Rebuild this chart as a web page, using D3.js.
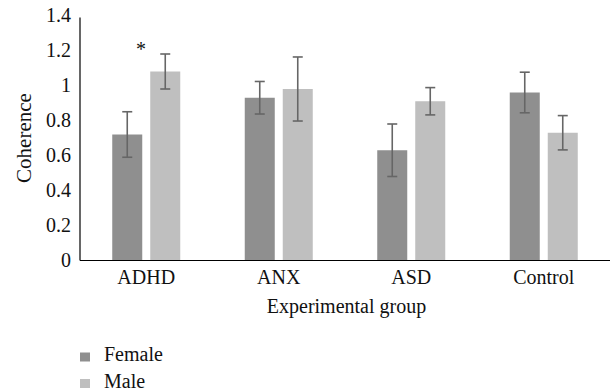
<!DOCTYPE html>
<html>
<head>
<meta charset="utf-8">
<script src="https://cdn.jsdelivr.net/npm/d3@7"></script>
</head>
<body style="margin:0; background:#fff">
<div id="chart"></div>
<script>
var groups = ["ADHD", "ANX", "ASD", "Control"];
var series = ["Female", "Male"];
var femaleVals = [0.72, 0.93, 0.63, 0.96];
var maleVals = [1.08, 0.98, 0.91, 0.73];
var femaleErr = [0.13, 0.093, 0.15, 0.116];
var maleErr = [0.1, 0.183, 0.078, 0.098];
var yTicks = [0, 0.2, 0.4, 0.6, 0.8, 1, 1.2, 1.4];
var colors = ["#8f8f8f", "#bfbfbf"];

var width = 611, height = 392;
var margin = {left: 80, right: 1, top: 15.5, bottom: 131.5};

var svg = d3.select("#chart").append("svg")
    .attr("width", width)
    .attr("height", height);

var x = d3.scaleBand().domain(groups).range([margin.left, width - margin.right]);
var y = d3.scaleLinear().domain([0, 1.4]).range([height - margin.bottom, margin.top]);

// y axis labels
svg.append("g").selectAll("text")
  .data(yTicks)
  .enter().append("text")
    .attr("font-family", "Liberation Serif")
    .attr("x", 71)
    .attr("y", function(d) { return y(d); })
    .attr("dy", "0.33em")
    .attr("text-anchor", "end")
    .attr("font-size", 20)
    .attr("fill", "#111")
    .text(function(d) { return d; });

svg.append("line")
    .attr("x1", margin.left).attr("x2", margin.left)
    .attr("y1", y(1.4) + 2).attr("y2", y(0))
    .style("stroke", "#000").style("stroke-width", 1.2);

// bars
var data = [];
groups.forEach(function(g, i) {
  data.push({g: g, s: 0, v: femaleVals[i], e: femaleErr[i]});
  data.push({g: g, s: 1, v: maleVals[i], e: maleErr[i]});
});

var barW = 30, off = 19;
function cx(d) { return x(d.g) + x.bandwidth() / 2 + (d.s === 0 ? -off : off); }

svg.append("g").selectAll("rect")
  .data(data)
  .enter().append("rect")
    .attr("x", function(d) { return cx(d) - barW / 2; })
    .attr("y", function(d) { return y(d.v); })
    .attr("width", barW)
    .attr("height", function(d) { return y(0) - y(d.v); })
    .style("fill", function(d) { return colors[d.s]; });

// error bars
var eb = svg.append("g").selectAll("g")
  .data(data)
  .enter().append("g")
    .style("stroke", "#666")
    .style("stroke-width", 1.6);
eb.append("line")
    .attr("x1", cx).attr("x2", cx)
    .attr("y1", function(d) { return y(d.v + d.e); })
    .attr("y2", function(d) { return y(d.v - d.e); });
eb.append("line")
    .attr("x1", function(d) { return cx(d) - 5; }).attr("x2", function(d) { return cx(d) + 5; })
    .attr("y1", function(d) { return y(d.v + d.e); })
    .attr("y2", function(d) { return y(d.v + d.e); });
eb.append("line")
    .attr("x1", function(d) { return cx(d) - 5; }).attr("x2", function(d) { return cx(d) + 5; })
    .attr("y1", function(d) { return y(d.v - d.e); })
    .attr("y2", function(d) { return y(d.v - d.e); });

// x axis line
svg.append("line")
    .attr("x1", margin.left).attr("x2", width - margin.right)
    .attr("y1", y(0)).attr("y2", y(0))
    .style("stroke", "#000").style("stroke-width", 1.2);

// x labels
svg.append("g").selectAll("text")
  .data(groups)
  .enter().append("text")
    .attr("font-family", "Liberation Serif")
    .attr("x", function(d) { return x(d) + x.bandwidth() / 2; })
    .attr("y", 284)
    .attr("text-anchor", "middle")
    .attr("font-size", 20)
    .attr("fill", "#111")
    .text(function(d) { return d; });

// significance mark
svg.append("text")
    .attr("font-family", "Liberation Serif")
    .attr("x", 141)
    .attr("y", 56)
    .attr("text-anchor", "middle")
    .attr("font-size", 20)
    .attr("fill", "#111")
    .text("*");

// axis titles
svg.append("text")
    .attr("font-family", "Liberation Serif")
    .attr("x", 346.5)
    .attr("y", 313)
    .attr("text-anchor", "middle")
    .attr("font-size", 20)
    .attr("fill", "#111")
    .text("Experimental group");

svg.append("text")
    .attr("font-family", "Liberation Serif")
    .attr("transform", "translate(31,138) rotate(-90)")
    .attr("text-anchor", "middle")
    .attr("font-size", 21)
    .attr("fill", "#111")
    .text("Coherence");

// legend
var leg = svg.append("g").selectAll("g")
  .data(series)
  .enter().append("g")
    .attr("transform", function(d, i) { return "translate(80," + (352.5 + i * 26.5) + ")"; });
leg.append("rect")
    .attr("width", 10).attr("height", 9)
    .style("fill", function(d, i) { return colors[i]; });
leg.append("text")
    .attr("font-family", "Liberation Serif")
    .attr("x", 24).attr("y", 8.5)
    .attr("font-size", 20)
    .attr("fill", "#111")
    .text(function(d) { return d; });
</script>
</body>
</html>
